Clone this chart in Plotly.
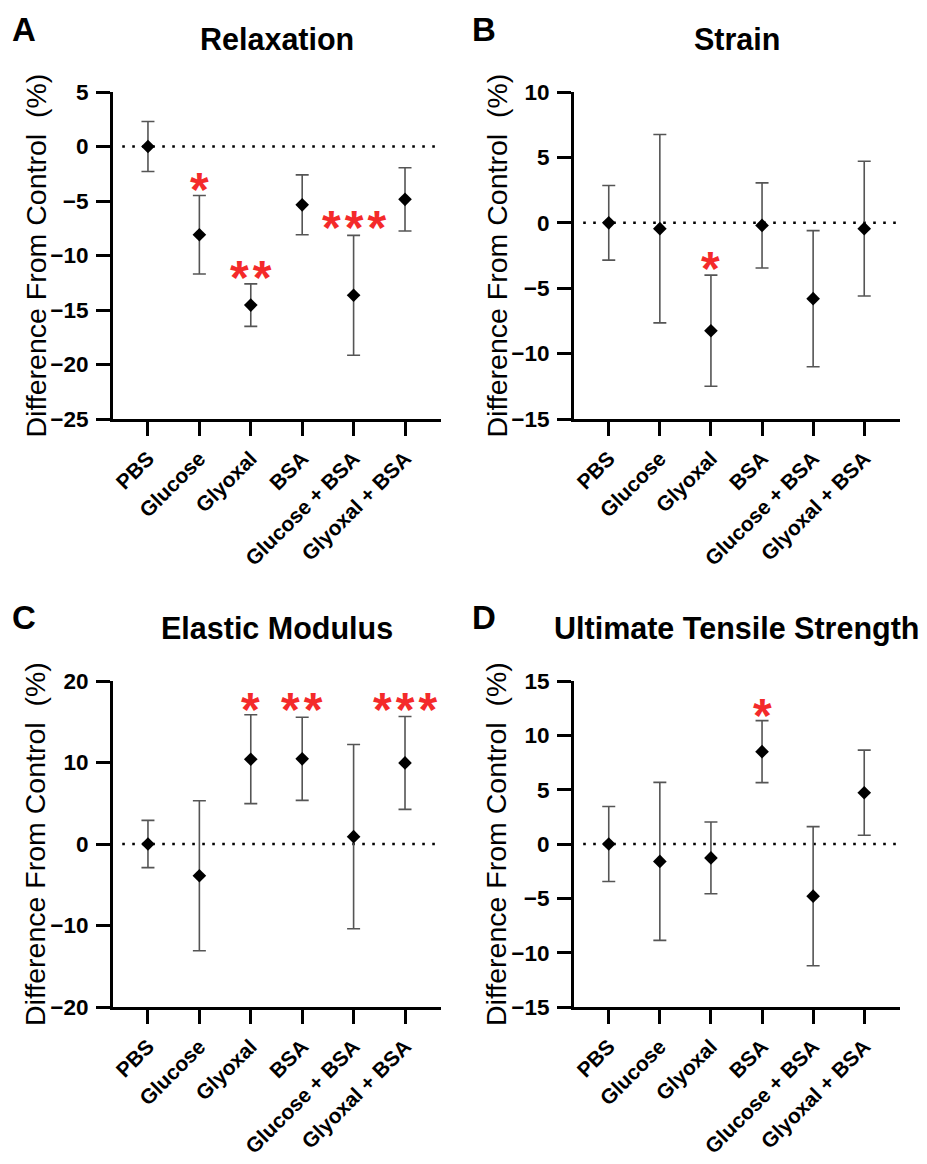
import plotly.graph_objects as go

categories = ["PBS", "Glucose", "Glyoxal", "BSA", "Glucose + BSA", "Glyoxal + BSA"]

# Panel A: Relaxation
relax_mean = [0.0, -8.1, -14.55, -5.35, -13.65, -4.85]
relax_err = [2.3, 3.6, 1.95, 2.75, 5.5, 2.9]
relax_stars = ["", "*", "**", "", "***", ""]
relax_star_y = [None, -3.4, -11.5, None, -6.9, None]

# Panel B: Strain
strain_mean = [0.0, -0.45, -8.25, -0.2, -5.8, -0.45]
strain_err = [2.85, 7.2, 4.25, 3.25, 5.2, 5.15]
strain_stars = ["", "", "*", "", "", ""]
strain_star_y = [None, None, -3.0, None, None, None]

# Panel C: Elastic Modulus
elastic_mean = [0.0, -3.9, 10.4, 10.45, 0.9, 9.95]
elastic_err = [2.9, 9.2, 5.45, 5.1, 11.3, 5.7]
elastic_stars = ["", "", "*", "**", "", "***"]
elastic_star_y = [None, None, 17.3, 17.3, None, 17.3]

# Panel D: Ultimate Tensile Strength
uts_mean = [0.0, -1.6, -1.28, 8.5, -4.8, 4.72]
uts_err = [3.45, 7.27, 3.3, 2.85, 6.4, 3.92]
uts_stars = ["", "", "", "*", "", ""]
uts_star_y = [None, None, None, 12.4, None, None]

panels = [
    dict(letter="A", title="Relaxation", mean=relax_mean, err=relax_err,
         stars=relax_stars, star_y=relax_star_y, yrange=[-25, 5], dtick=5),
    dict(letter="B", title="Strain", mean=strain_mean, err=strain_err,
         stars=strain_stars, star_y=strain_star_y, yrange=[-15, 10], dtick=5),
    dict(letter="C", title="Elastic Modulus", mean=elastic_mean, err=elastic_err,
         stars=elastic_stars, star_y=elastic_star_y, yrange=[-20, 20], dtick=10),
    dict(letter="D", title="Ultimate Tensile Strength", mean=uts_mean, err=uts_err,
         stars=uts_stars, star_y=uts_star_y, yrange=[-15, 15], dtick=5),
]

# the page body margin is removed in the html, so the figure fills the 927x1164 window
W, H = 927, 1164
FONT = "Liberation Sans, Arial, Helvetica, sans-serif"


def px_x(x):
    return x / W


def px_y(y):
    return 1 - y / H


# plot-area screen-pixel boxes (left, right, top, bottom)
boxes = [(113, 441, 92, 419), (574, 900, 92, 419),
         (113, 441, 681, 1007), (574, 900, 681, 1007)]
title_y_px = [39, 39, 628, 628]
letter_px = [(24, 29), (484, 29), (24, 617), (484, 617)]

fig = go.Figure()
xr = [-0.68, 5.70]
xidx = list(range(len(categories)))

layout_axes = {}
annotations = []
shapes = []
for i, p in enumerate(panels):
    n = i + 1
    xa = "x" if n == 1 else f"x{n}"
    ya = "y" if n == 1 else f"y{n}"
    l, r, t, b = boxes[i]
    fig.add_trace(go.Scatter(
        x=xidx, y=p["mean"], mode="markers", xaxis=xa, yaxis=ya,
        marker=dict(symbol="diamond", size=10.5, color="black"),
        error_y=dict(type="data", array=p["err"], visible=True,
                     color="#555555", thickness=1.6, width=6.5),
        showlegend=False, cliponaxis=False,
    ))
    axis_common = dict(showline=True, linecolor="black", linewidth=3,
                       ticks="outside", ticklen=14, tickwidth=2.7, tickcolor="black",
                       showgrid=False, zeroline=False, automargin=False)
    layout_axes[("xaxis" if n == 1 else f"xaxis{n}")] = dict(
        domain=[px_x(l), px_x(r)], anchor=ya, range=xr, ticklabelstandoff=2,
        tickvals=xidx, ticktext=categories, tickangle=-45,
        tickfont=dict(family=FONT, size=21, color="black", weight="bold"), **axis_common)
    layout_axes[("yaxis" if n == 1 else f"yaxis{n}")] = dict(
        domain=[px_y(b), px_y(t)], anchor=xa, range=p["yrange"], ticklabelstandoff=3,
        dtick=p["dtick"], tick0=0,
        tickfont=dict(family=FONT, size=22.5, color="black", weight="bold"), **axis_common)
    # dotted zero line
    shapes.append(dict(type="line", xref=xa, yref=ya, x0=-0.5, x1=5.68, y0=0, y1=0,
                       line=dict(color="black", width=2.6, dash="2.6px,7.4px"), layer="below"))
    # significance stars
    for j, s in enumerate(p["stars"]):
        if s:
            annotations.append(dict(x=j, y=p["star_y"][j], xref=xa, yref=ya,
                                    text="\u200a".join(s), showarrow=False,
                                    yshift=-6,
                                    font=dict(family=FONT, size=48, color="#f42a2a", weight="bold")))
    # panel title
    annotations.append(dict(x=px_x((l + r) / 2), y=px_y(title_y_px[i]), xref="paper", yref="paper",
                            text=p["title"], showarrow=False, xanchor="center", yanchor="middle",
                            font=dict(family=FONT, size=30.5, color="black", weight="bold")))
    # panel letter
    lx, ly = letter_px[i]
    annotations.append(dict(x=px_x(lx), y=px_y(ly), xref="paper", yref="paper",
                            text=p["letter"], showarrow=False, xanchor="center", yanchor="middle",
                            font=dict(family=FONT, size=33, color="black", weight="bold")))
    # y axis title
    annotations.append(dict(x=px_x(l - 78), y=px_y((t + b) / 2), xref="paper", yref="paper",
                            text="Difference From Control  (%)", textangle=-90, showarrow=False,
                            xanchor="center", yanchor="middle",
                            font=dict(family=FONT, size=28.5, color="black")))

fig.update_layout(
    width=W, height=H,
    margin=dict(l=0, r=0, t=0, b=0),
    paper_bgcolor="white", plot_bgcolor="white",
    annotations=annotations, shapes=shapes,
    **layout_axes,
)

fig.write_html("out.html",
               config={"displayModeBar": False},
               post_script="document.body.style.margin='0px';document.body.style.overflow='hidden';")
